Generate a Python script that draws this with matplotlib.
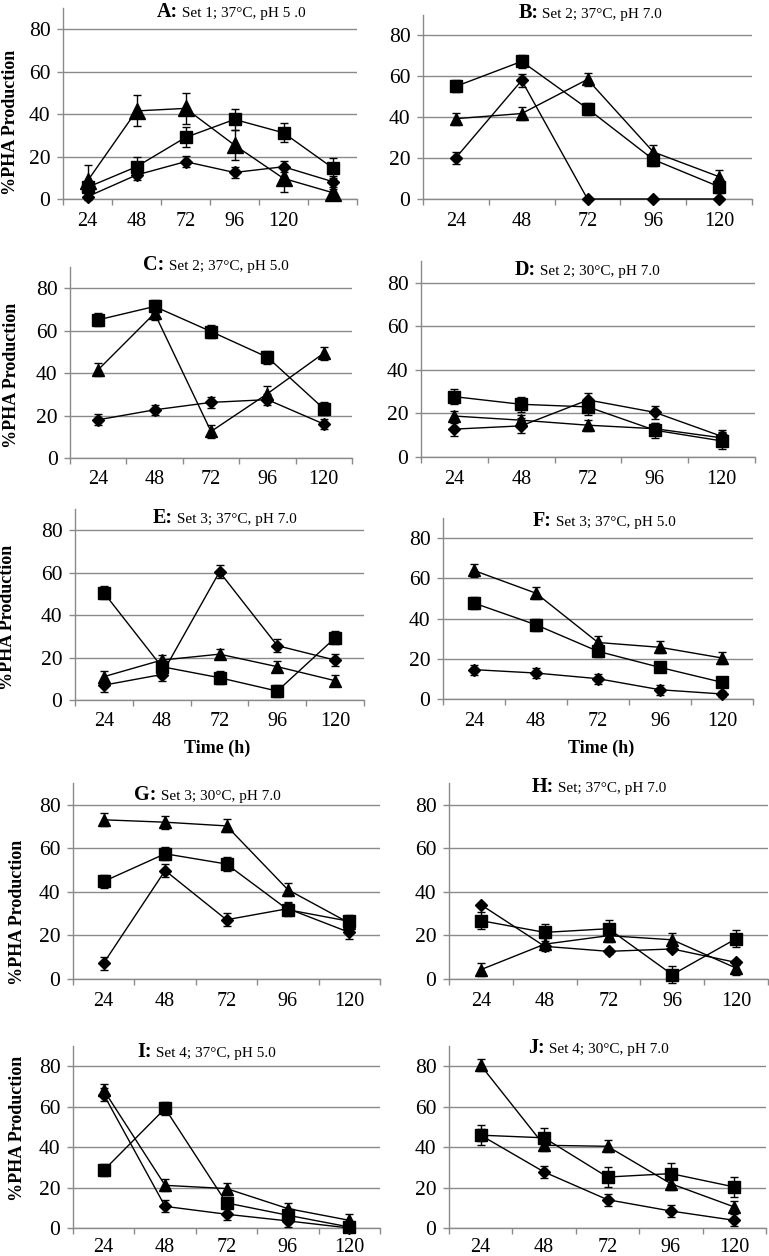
import matplotlib
matplotlib.use('Agg')
import matplotlib.pyplot as plt

plt.rcParams['font.family'] = ['Liberation Serif', 'DejaVu Serif']

# ---------------- data ----------------
hours6 = ['24', '48', '72', '96', '120', '']
hours5 = ['24', '48', '72', '96', '120']

A_di = [1.1, 11.3, 17.6, 12.5, 15.2, 8.2]
A_sq = [5.5, 15.2, 29.0, 37.5, 31.2, 14.7]
A_tr = [8.5, 41.5, 42.7, 25.4, 9.7, 3.0]
A_di_e = [1.5, 2.5, 2.5, 2.5, 2.5, 2.5]
A_sq_e = [3.0, 4.7, 4.7, 4.8, 4.5, 4.7]
A_tr_e = [7.3, 7.3, 7.2, 6.9, 6.5, 1.5]

B_di = [20.2, 58.0, 0.0, 0.0, 0.0]
B_sq = [55.1, 67.3, 44.2, 19.3, 6.0]
B_tr = [39.3, 41.8, 58.5, 23.0, 10.9]
B_di_e = [3.0, 3.0, 0.0, 0.0, 0.0]
B_sq_e = [3.0, 3.0, 3.0, 3.0, 3.0]
B_tr_e = [3.0, 3.0, 3.0, 3.5, 3.5]

C_di = [18.0, 22.7, 26.2, 27.5, 16.0]
C_sq = [65.1, 71.4, 59.6, 47.5, 23.2]
C_tr = [41.6, 68.2, 12.5, 30.3, 49.4]
C_di_e = [2.5, 2.5, 2.5, 2.5, 2.5]
C_sq_e = [3.0, 3.0, 3.0, 3.0, 3.0]
C_tr_e = [3.0, 3.0, 3.0, 3.5, 3.0]

D_di = [12.8, 14.3, 26.2, 20.5, 9.5]
D_sq = [27.7, 24.2, 23.0, 12.3, 7.4]
D_tr = [18.8, 16.9, 14.6, 13.0, 8.8]
D_di_e = [3.0, 3.5, 3.0, 3.0, 3.0]
D_sq_e = [3.5, 3.5, 3.5, 3.5, 3.5]
D_tr_e = [2.5, 2.5, 2.5, 2.5, 2.5]

E_di = [7.0, 12.0, 60.4, 25.6, 18.8]
E_sq = [50.5, 15.7, 10.5, 4.2, 29.3]
E_tr = [11.0, 18.8, 21.6, 15.7, 9.1]
E_di_e = [3.0, 3.0, 3.0, 3.0, 3.0]
E_sq_e = [3.0, 3.0, 3.0, 3.0, 3.0]
E_tr_e = [2.5, 2.5, 2.5, 2.5, 2.5]

F_di = [14.6, 12.9, 10.1, 4.6, 2.5]
F_sq = [47.7, 36.9, 23.7, 15.7, 8.3]
F_tr = [63.9, 52.6, 28.1, 25.7, 20.4]
F_di_e = [2.5, 2.5, 2.5, 2.5, 1.5]
F_sq_e = [3.0, 3.0, 3.0, 2.5, 2.5]
F_tr_e = [3.0, 3.0, 3.0, 3.0, 3.0]

G_di = [7.3, 49.8, 27.2, 32.3, 21.4]
G_sq = [44.8, 57.5, 52.8, 31.8, 26.5]
G_tr = [73.1, 72.0, 70.3, 41.0, 25.7]
G_di_e = [3.0, 3.0, 3.0, 3.0, 3.0]
G_sq_e = [3.0, 3.0, 3.0, 3.0, 3.0]
G_tr_e = [3.0, 3.0, 3.0, 3.0, 3.0]

H_di = [34.1, 15.0, 12.7, 13.8, 7.6]
H_sq = [26.8, 21.4, 23.1, 2.0, 18.5]
H_tr = [4.3, 16.0, 19.9, 18.0, 5.0]
H_di_e = [1.0, 1.0, 1.0, 1.0, 1.0]
H_sq_e = [4.0, 4.0, 4.0, 4.0, 4.0]
H_tr_e = [3.0, 3.0, 3.0, 3.0, 3.0]

I_di = [66.0, 10.7, 6.8, 3.5, 0.0]
I_sq = [28.5, 59.1, 12.4, 6.3, 0.5]
I_tr = [68.2, 21.1, 19.5, 9.6, 3.8]
I_di_e = [3.0, 3.0, 3.0, 3.0, 0.5]
I_sq_e = [3.0, 3.0, 3.0, 3.0, 0.5]
I_tr_e = [3.0, 3.0, 3.0, 3.0, 3.0]

J_di = [45.9, 27.7, 14.0, 8.4, 3.8]
J_sq = [45.9, 44.6, 25.2, 26.9, 20.3]
J_tr = [80.5, 40.9, 40.4, 21.9, 10.4]
J_di_e = [3.0, 3.0, 3.0, 3.0, 3.0]
J_sq_e = [5.0, 5.0, 5.0, 5.0, 5.0]
J_tr_e = [3.0, 3.0, 3.0, 3.0, 3.0]

titles = [('A:', ' Set 1; 37\u00b0C, pH 5 .0'), ('B:', ' Set 2; 37\u00b0C, pH 7.0'),
          ('C:', ' Set 2; 37\u00b0C, pH 5.0'), ('D:', ' Set 2; 30\u00b0C, pH 7.0'),
          ('E:', ' Set 3; 37\u00b0C, pH 7.0'), ('F:', ' Set 3; 37\u00b0C, pH 5.0'),
          ('G:', ' Set 3; 30\u00b0C, pH 7.0'), ('H:', ' Set; 37\u00b0C, pH 7.0'),
          ('I:', ' Set 4; 37\u00b0C, pH 5.0'), ('J:', ' Set 4; 30\u00b0C, pH 7.0')]
ylabel_text = '%PHA Production'
xlabel_text = 'Time (h)'

# ---------------- layout (pixels) ----------------
W, H = 769, 1256
fig = plt.figure(figsize=(W / 100, H / 100), dpi=100)

# left, right, y-pixel of value 0, y-pixel of value 90
boxes = [(63, 357, 199, 8), (423, 752, 199, 15),
         (70, 352, 458, 267), (421, 755, 457, 261),
         (75, 364, 700, 509), (443, 753, 699, 518),
         (73, 380, 979, 783), (449, 768, 979, 783),
         (73, 380, 1228, 1046), (449, 766, 1228, 1046)]
title_x = [0.32, 0.29, 0.26, 0.28, 0.27, 0.29, 0.20, 0.26, 0.21, 0.25]
title_y = [85.8, 88.6, 88.5, 83.7, 83.4, 86.0, 82.3, 85.7, 84.4, 86.6]
xpads = [9, 9, 9, 9, 9, 9, 9, 9, 7, 7]

panels = [
    (hours6, A_di, A_sq, A_tr, A_di_e, A_sq_e, A_tr_e),
    (hours5, B_di, B_sq, B_tr, B_di_e, B_sq_e, B_tr_e),
    (hours5, C_di, C_sq, C_tr, C_di_e, C_sq_e, C_tr_e),
    (hours5, D_di, D_sq, D_tr, D_di_e, D_sq_e, D_tr_e),
    (hours5, E_di, E_sq, E_tr, E_di_e, E_sq_e, E_tr_e),
    (hours5, F_di, F_sq, F_tr, F_di_e, F_sq_e, F_tr_e),
    (hours5, G_di, G_sq, G_tr, G_di_e, G_sq_e, G_tr_e),
    (hours5, H_di, H_sq, H_tr, H_di_e, H_sq_e, H_tr_e),
    (hours5, I_di, I_sq, I_tr, I_di_e, I_sq_e, I_tr_e),
    (hours5, J_di, J_sq, J_tr, J_di_e, J_sq_e, J_tr_e),
]

GRID = '#8a8a8a'

for idx, (labels, di, sq, tr, di_e, sq_e, tr_e) in enumerate(panels):
    l, r, y0, y90 = boxes[idx]
    ax = fig.add_axes([l / W, 1 - y0 / H, (r - l) / W, (y0 - y90) / H])
    n = len(labels)
    x = list(range(1, n + 1))
    tri_ms = 11.5 if idx == 0 else 8.5
    series = [(di, di_e, 'D', 6.3), (sq, sq_e, 's', 8.5), (tr, tr_e, '^', tri_ms)]
    for vals, errs, mk, ms in series:
        ax.errorbar(x, vals, yerr=errs, color='black', lw=1.0, marker=mk,
                    markersize=ms, markerfacecolor='black', markeredgecolor='black',
                    ecolor='black', elinewidth=1.0, capsize=3, capthick=1.0,
                    clip_on=False, zorder=3)
    ax.set_xlim(0.5, n + 0.5)
    ax.set_ylim(0, 90)
    ax.set_yticks([0, 20, 40, 60, 80])
    ax.yaxis.grid(True, color=GRID, lw=1.0)
    ax.set_axisbelow(True)
    ax.set_xticks(x)
    ax.set_xticklabels(labels)
    ax.set_xticks([i + 0.5 for i in range(0, n + 1)], minor=True)
    ax.tick_params(axis='x', which='major', length=0, pad=xpads[idx], labelsize=14.5)
    ax.tick_params(axis='x', which='minor', length=4.5, width=1.0, color=GRID, direction='out')
    ax.tick_params(axis='y', length=4, width=1.0, color=GRID, pad=5, labelsize=15.5)
    for s in ('top', 'right'):
        ax.spines[s].set_visible(False)
    for s in ('left', 'bottom'):
        ax.spines[s].set_color(GRID)
        ax.spines[s].set_linewidth(1.0)
    # title
    bold, rest = titles[idx]
    t1 = ax.text(title_x[idx], title_y[idx], bold, transform=ax.get_yaxis_transform(),
                 fontsize=14.5, fontweight='bold', ha='left', va='baseline')
    ax.annotate(rest, xy=(1, title_y[idx]), xycoords=(t1, ax.get_yaxis_transform()),
                fontsize=11, ha='left', va='baseline')

# y labels on left column
ylab_pos = [(11, 122), (12, 375), (8, 617), (18, 912), (18, 1128)]
for px, py in ylab_pos:
    fig.text(px / W, 1 - py / H, ylabel_text, rotation=90, ha='center', va='center',
             fontsize=13, fontweight='bold')

# x labels under E and F
for px, py in [(217, 748), (601, 748)]:
    fig.text(px / W, 1 - py / H, xlabel_text, ha='center', va='center',
             fontsize=13, fontweight='bold')

fig.savefig('out.png', dpi=100)
